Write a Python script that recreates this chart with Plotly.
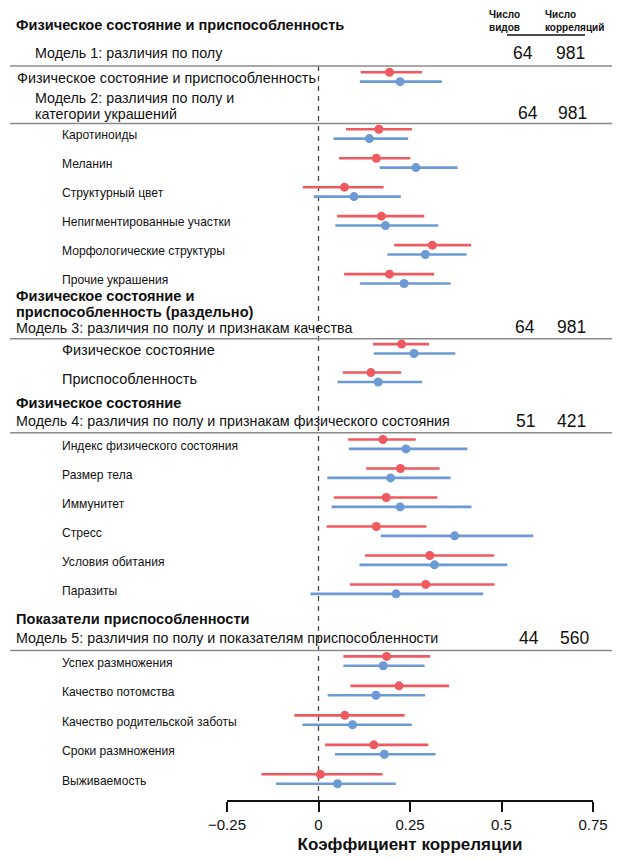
import plotly.graph_objects as go

# ---------------- data ----------------
categories = [
    "Физическое состояние и приспособленность",
    "Каротиноиды", "Меланин", "Структурный цвет", "Непигментированные участки",
    "Морфологические структуры", "Прочие украшения",
    "Физическое состояние", "Приспособленность",
    "Индекс физического состояния", "Размер тела", "Иммунитет", "Стресс",
    "Условия обитания", "Паразиты",
    "Успех размножения", "Качество потомства", "Качество родительской заботы",
    "Сроки размножения", "Выживаемость",
]
# red series: estimate, lower CI, upper CI
red_est = [0.194, 0.165, 0.158, 0.071, 0.172, 0.311, 0.194, 0.227, 0.143,
           0.176, 0.224, 0.185, 0.158, 0.304, 0.293, 0.186, 0.220, 0.072, 0.151, 0.005]
red_lo = [0.115, 0.075, 0.056, -0.043, 0.051, 0.207, 0.070, 0.149, 0.066,
          0.081, 0.130, 0.042, 0.022, 0.127, 0.086, 0.068, 0.087, -0.066, 0.018, -0.156]
red_hi = [0.283, 0.255, 0.251, 0.178, 0.289, 0.417, 0.316, 0.302, 0.226,
          0.266, 0.331, 0.325, 0.295, 0.480, 0.481, 0.305, 0.357, 0.235, 0.300, 0.175]
# blue series
blue_est = [0.223, 0.139, 0.266, 0.097, 0.183, 0.292, 0.234, 0.261, 0.163,
            0.239, 0.197, 0.223, 0.372, 0.317, 0.212, 0.177, 0.157, 0.093, 0.180, 0.052]
blue_lo = [0.113, 0.041, 0.167, -0.013, 0.046, 0.188, 0.113, 0.151, 0.052,
           0.083, 0.024, 0.036, 0.170, 0.112, -0.022, 0.068, 0.025, -0.044, 0.045, -0.116]
blue_hi = [0.337, 0.245, 0.380, 0.225, 0.327, 0.405, 0.361, 0.374, 0.283,
           0.407, 0.361, 0.418, 0.587, 0.516, 0.450, 0.290, 0.291, 0.255, 0.320, 0.211]

model_titles = [
    ["Модель 1: различия по полу"],
    ["Модель 2: различия по полу и", "категории украшений"],
    ["Модель 3: различия по полу и признакам качества"],
    ["Модель 4: различия по полу и признакам физического состояния"],
    ["Модель 5: различия по полу и показателям приспособленности"],
]
n_species = [64, 64, 64, 51, 44]
n_corr = [981, 981, 981, 421, 560]
rows_per_model = [1, 6, 2, 6, 5]

section_titles = [
    ["Физическое состояние и приспособленность"],
    ["Физическое состояние и", "приспособленность (раздельно)"],
    ["Физическое состояние"],
    ["Показатели приспособленности"],
]
header_species = "Число<br>видов"
header_corr = "Число<br>корреляций"
tick_vals = [-0.25, 0, 0.25, 0.5, 0.75]
tick_text = ["−0.25", "0", "0.25", "0.5", "0.75"]

# ---------------- layout ----------------
# positions below are given in page pixels; the page body has an 8px margin
BODY = 8
PAGE_W, PAGE_H = 620, 859
W, H = PAGE_W - BODY, PAGE_H - BODY
X_LEFT, X_RIGHT = 227, 593        # page x of -0.25 and 0.75
AX_Y = 800.5                      # page y of the x axis line
L = X_LEFT - BODY
R = W - L - (X_RIGHT - X_LEFT)
RED = "#EF5A60"
BLUE = "#6C9AD4"
FONT = "Liberation Sans, Arial, sans-serif"
TXT = "#111111"

def px(xp):
    return (xp - X_LEFT) / (X_RIGHT - X_LEFT)

# row centres per model block: (first centre, step)
block_geom = [(77, 0), (134, 29), (349, 28.5), (444.5, 29), (661.5, 29.5)]
row_y = []
for (start, step), n in zip(block_geom, rows_per_model):
    row_y += [start + i * step for i in range(n)]
OFF = 4.7

fig = go.Figure()
for est, lo, hi, col, sgn in [(red_est, red_lo, red_hi, RED, -1),
                              (blue_est, blue_lo, blue_hi, BLUE, 1)]:
    fig.add_trace(go.Scatter(
        x=est, y=[y + sgn * OFF for y in row_y], mode="markers",
        marker=dict(color=col, size=9),
        error_x=dict(type="data", symmetric=False,
                     array=[h - e for h, e in zip(hi, est)],
                     arrayminus=[e - l for e, l in zip(est, lo)],
                     color=col, thickness=2.6, width=0),
        showlegend=False, hoverinfo="skip", cliponaxis=False,
    ))

ann = []
def text(x, y, s, size, bold=False, anchor="left", align="left"):
    ann.append(dict(xref="paper", yref="y", x=px(x), y=y,
                    text=f"<b>{s}</b>" if bold else s, showarrow=False,
                    xanchor=anchor, yanchor="middle", align=align,
                    font=dict(family=FONT, size=size, color=TXT)))

# row labels
label_x = [15] + [60] * 19
label_size = [14.4] + [12.1] * 6 + [14.5] * 2 + [12.1] * 11
for i, c in enumerate(categories):
    text(label_x[i], row_y[i] + 1.5, c, label_size[i])

# section titles
sec_y = [[25], [296, 312.5], [403], [619]]
for lines, ys in zip(section_titles, sec_y):
    for s, y in zip(lines, ys):
        text(14, y, s, 14.6, bold=True)

# model titles and counts
model_x = [33, 33, 14, 14, 14]
model_y = [[53], [98, 114], [328], [421], [638]]
count_y = [53, 113, 327, 421, 638]
sp_x = [523, 528, 525, 525, 529]
co_x = [570, 572, 571, 571, 574]
for i in range(5):
    for s, y in zip(model_titles[i], model_y[i]):
        text(model_x[i], y, s, 14.3)
    text(sp_x[i], count_y[i], str(n_species[i]), 17.5, anchor="center")
    text(co_x[i], count_y[i], str(n_corr[i]), 17.5, anchor="center")

# column headers
text(487, 21.5, header_species, 10, bold=True)
text(543, 21.5, header_corr, 10, bold=True)

shapes = []
for y in [66, 123.5, 339, 433, 651]:
    shapes.append(dict(type="line", xref="paper", yref="y", x0=px(10), x1=px(615),
                       y0=y, y1=y, line=dict(color="#8a8a8a", width=1.5)))
shapes.append(dict(type="line", xref="paper", yref="y", x0=px(507), x1=px(585),
                   y0=35, y1=35, line=dict(color="#111", width=1.5)))
shapes.append(dict(type="line", xref="x", yref="y", x0=0, x1=0, y0=66, y1=AX_Y,
                   line=dict(color="#444", width=1.3, dash="5px,5px"), layer="below"))

fig.update_layout(
    width=W, height=H,
    margin=dict(l=L, r=R, t=0, b=PAGE_H - AX_Y),
    plot_bgcolor="white", paper_bgcolor="white",
    annotations=ann, shapes=shapes,
    xaxis=dict(range=[-0.25, 0.75], showgrid=False, zeroline=False,
               showline=True, linecolor="#111", linewidth=1.5,
               ticks="outside", ticklen=10, tickwidth=1.5, tickcolor="#111",
               tickvals=tick_vals, ticktext=tick_text,
               tickfont=dict(family=FONT, size=15, color=TXT),
               title=dict(text="<b>Коэффициент корреляции</b>", standoff=6,
                          font=dict(family=FONT, size=17, color=TXT))),
    yaxis=dict(range=[AX_Y, BODY], visible=False, showgrid=False, zeroline=False),
)

fig.write_html("out.html")
